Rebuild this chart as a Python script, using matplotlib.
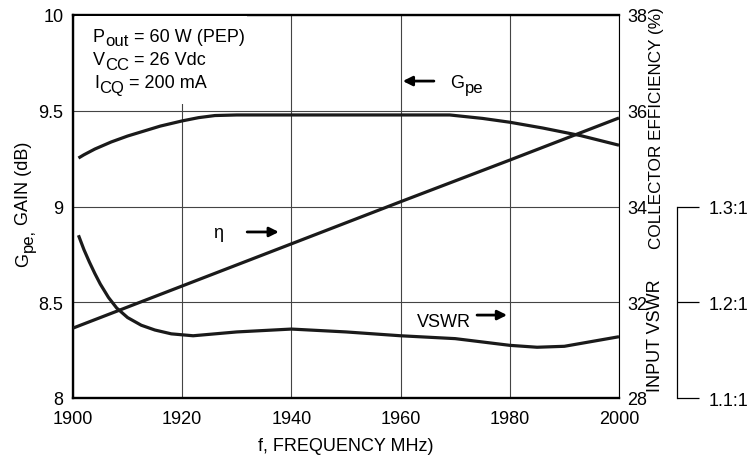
import matplotlib
matplotlib.use("Agg")
import matplotlib.pyplot as plt
from matplotlib import font_manager
from matplotlib.font_manager import FontProperties
from matplotlib.patches import Rectangle

# ---------------- data ----------------
freq_gain = [1901, 1902, 1904, 1907, 1910, 1913, 1916, 1920, 1923, 1926, 1930, 1940, 1960,
             1969, 1975, 1980, 1986, 1993, 2000]
gain_db = [9.253, 9.27, 9.30, 9.337, 9.368, 9.394, 9.42, 9.447, 9.464, 9.475, 9.478, 9.478,
           9.478, 9.478, 9.46, 9.44, 9.41, 9.37, 9.32]

freq_eff = [1900, 1920, 1940, 1960, 1980, 2000]
efficiency = [31.46, 32.34, 33.22, 34.10, 34.97, 35.85]

freq_vswr = [1901, 1902, 1903, 1904, 1905, 1906.5, 1908, 1910, 1912.5, 1915, 1918, 1922, 1930,
             1940, 1950, 1960, 1970, 1980, 1985, 1990, 2000]
vswr = [1.270, 1.255, 1.242, 1.230, 1.219, 1.205, 1.194, 1.184, 1.176, 1.171, 1.167, 1.165,
        1.169, 1.172, 1.169, 1.165, 1.162, 1.155, 1.153, 1.154, 1.164]

x_ticks = [1900, 1920, 1940, 1960, 1980, 2000]
gain_ticks = [8, 8.5, 9, 9.5, 10]
gain_tick_labels = ["8", "8.5", "9", "9.5", "10"]
eff_ticks = [30, 32, 34, 36, 38]
eff_tick_labels = ["28", "32", "34", "36", "38"]
vswr_ticks = [1.1, 1.2, 1.3]
vswr_tick_labels = ["1.1:1", "1.2:1", "1.3:1"]

# ---------------- fonts ----------------
names = {f.name for f in font_manager.fontManager.ttflist}
main_font = "Liberation Sans Narrow" if "Liberation Sans Narrow" in names else "Liberation Sans"
FAMILY = [main_font, "DejaVu Sans"]
plt.rcParams["font.family"] = FAMILY
FS = 13

W, H = 749, 464
fig = plt.figure(figsize=(W / 100, H / 100), dpi=100)
L, R, T, B = 73, 619, 16, 399
pos = [L / W, 1 - B / H, (R - L) / W, (B - T) / H]
ax = fig.add_axes(pos)

line_kw = dict(color="#1a1a1a", lw=2.3, solid_capstyle="butt", solid_joinstyle="round", zorder=5)
ax.plot(freq_gain, gain_db, **line_kw)
ax.set_xlim(1900, 2000)
ax.set_ylim(8, 10)
ax.set_xticks(x_ticks)
ax.set_yticks(gain_ticks)
ax.set_yticklabels(gain_tick_labels)
ax.grid(True, color="#444444", lw=0.8, zorder=0)
ax.set_axisbelow(True)
ax.tick_params(axis="both", length=0, labelsize=FS)
ax.tick_params(axis="x", pad=9)
ax.tick_params(axis="y", pad=7)
for s in ["left", "bottom", "top"]:
    ax.spines[s].set_linewidth(1.7)
ax.spines["right"].set_linewidth(0.8)

# efficiency axis
ax2 = ax.twinx()
ax2.plot(freq_eff, efficiency, **line_kw)
ax2.set_ylim(30, 38)
ax2.set_yticks(eff_ticks)
ax2.set_yticklabels(eff_tick_labels)
ax2.tick_params(length=0, labelsize=FS, pad=6)
for s in ax2.spines.values():
    s.set_visible(False)

# VSWR axis
ax3 = ax.twinx()
ax3.plot(freq_vswr, vswr, **line_kw)
ax3.set_ylim(1.1, 1.5)
ax3.spines["right"].set_position(("axes", (677 - L) / (R - L)))
ax3.spines["right"].set_bounds(1.1, 1.3)
ax3.spines["right"].set_linewidth(0.9)
for s in ["left", "top", "bottom"]:
    ax3.spines[s].set_visible(False)
ax3.set_yticks(vswr_ticks)
ax3.set_yticklabels(vswr_tick_labels)
ax3.tick_params(axis="y", length=16, width=0.9, direction="out", labelsize=FS, pad=7)

renderer = fig.canvas.get_renderer()


def rich(x, y, parts, rotation=0, size=FS, zorder=6):
    """Draw text pieces with dropped subscripts; x, y = baseline start in pixels from top-left."""
    for s, sub, gap in parts:
        fs = size * 0.92 if sub else size
        drop = 4.5 if sub else 0.0
        if rotation == 0:
            px, py = x, y + drop
        else:
            px, py = x + drop, y
        fig.text(px / W, 1 - py / H, s, fontsize=fs, rotation=rotation,
                 rotation_mode="anchor", ha="left", va="baseline", zorder=zorder)
        w, h, d = renderer.get_text_width_height_descent(
            s, FontProperties(family=FAMILY, size=fs), ismath=False)
        if rotation == 0:
            x += w + gap
        else:
            y -= w + gap


# axis labels
fig.text(346 / W, 1 - 447 / H, "f, FREQUENCY MHz)", ha="center", va="center", fontsize=FS)
rich(28, 267, [("G", False, 0.5), ("pe,", True, 4), ("GAIN (dB)", False, 0)], rotation=90)
fig.text(656 / W, 1 - 128 / H, "COLLECTOR EFFICIENCY (%)", rotation=90,
         ha="center", va="center", fontsize=12.3)
fig.text(656 / W, 1 - 336 / H, "INPUT VSWR", rotation=90,
         ha="center", va="center", fontsize=FS)

# condition block (white backing over grid)
fig.add_artist(Rectangle((75 / W, 1 - 105 / H), 172 / W, 88 / H, transform=fig.transFigure,
                         facecolor="white", edgecolor="none", zorder=2))
rich(93, 42, [("P", False, 0.5), ("out", True, 5), ("= 60 W (PEP)", False, 0)])
rich(93, 65, [("V", False, 0.5), ("CC", True, 5), ("= 26 Vdc", False, 0)])
rich(94, 88, [("I", False, 0.5), ("CQ", True, 5), ("= 200 mA", False, 0)])

arrow = dict(arrowstyle="-|>", lw=2.0, color="black", mutation_scale=14, shrinkA=0, shrinkB=0)
# eta label
fig.text(213 / W, 1 - 238 / H, "η", ha="left", va="baseline", fontsize=FS, zorder=6)
ax.annotate("", xy=(1937.7, 8.867), xytext=(1931.9, 8.867), arrowprops=arrow, zorder=6)
# Gpe label
ax.annotate("", xy=(1960.4, 9.655), xytext=(1966.1, 9.655), arrowprops=arrow, zorder=6)
rich(450, 88, [("G", False, 0.5), ("pe", True, 0)])
# VSWR label
fig.text(417 / W, 1 - 327 / H, "VSWR", ha="left", va="baseline", fontsize=FS, zorder=6)
ax.annotate("", xy=(1979.5, 8.433), xytext=(1974.0, 8.433), arrowprops=arrow, zorder=6)

fig.savefig("out.png", dpi=100)
